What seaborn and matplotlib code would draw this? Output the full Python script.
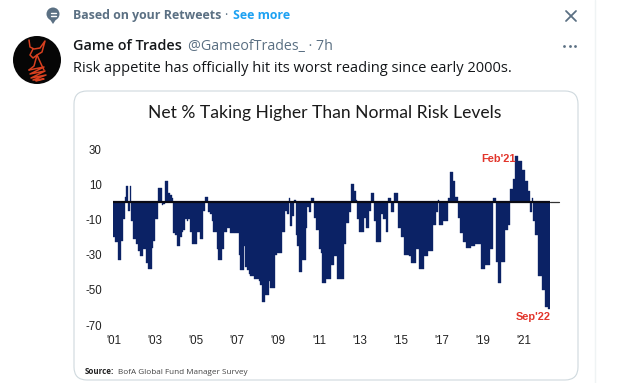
import numpy as np
import pandas as pd
import matplotlib
matplotlib.use("Agg")
import matplotlib.pyplot as plt
from matplotlib.patches import Circle, FancyBboxPatch
import seaborn as sns

# net % taking higher than normal risk, one row per year
net_pct = [
    -20, -23, -23, -33, -33, -22, -10, 3, 9, -5, 9, -11,          # 2001
    -21, -21, -24, -28, -31, -31, -27, -27, -35, -38, -38, -26,   # 2002
    -22, -10, -10, 8, 8, -2, -1, 12, 12, 5, 4, 2,                 # 2003
    -18, -19, -25, -25, -20, -17, -16, -10, -11, -10, -17, -24,   # 2004
    -24, -24, -17, -17, -21, -21, -5, 3, 3, -6, -7, -11,          # 2005
    -17, -17, -27, -33, -33, -27, -17, -17, -15, -15, -18, -18,   # 2006
    -18, -18, -18, -30, -39, -39, -25, -37, -39, -41, -42, -42,   # 2007
    -44, -44, -44, -45, -47, -57, -57, -53, -53, -45, -49, -49,   # 2008
    -49, -30, -29, -29, -29, -17, -17, -5, -7, 2, -14, -8,        # 2009
    1, -19, -25, -40, -40, -33, -33, -15, -3, -6, 2, 2,           # 2010
    -9, -16, -16, -27, -29, -46, -46, -44, -44, -44, -36, -36,    # 2011
    -31, -31, -44, -44, -44, -44, -24, -12, -12, -6, 10, 10,      # 2012
    6, 1, -10, -17, -17, -17, -9, -15, -15, -5, 5, 5,             # 2013
    -11, -23, -23, -23, -7, -10, -10, -17, 2, 2, -6, -6,          # 2014
    5, 5, -15, -15, -20, -20, -30, -30, -30, -31, -35, -35,       # 2015
    -35, -27, -27, -38, -38, -38, -31, -31, -28, -28, -28, -13,   # 2016
    -13, -6, 1, -13, -13, -11, -11, -11, 2, 17, 17, 12,           # 2017
    3, 3, -9, -18, -18, -23, -23, -26, -26, -26, -25, -25,        # 2018
    -24, -24, -24, -24, -38, -38, -36, -36, -36, -27, -27, 2,     # 2019
    2, -34, -46, -46, -34, -34, -16, -16, -13, 7, 7, 13,          # 2020
    26, 26, 23, 23, 18, 18, 12, 12, 6, -6, 2, -11,                # 2021
    -19, -19, -42, -42, -50, -50, -60, -60, -61,                  # 2022
]
y_ticks = [30, 10, -10, -30, -50, -70]
x_labels = ["'01", "'03", "'05", "'07", "'09", "'11", "'13", "'15", "'17", "'19", "'21"]

W, H = 622, 383
NAVY = "#0b2265"
RED = "#e2352b"
GREY = "#5b7083"
UI_FONT = "Open Sans"

sns.set_theme(style="white")
plt.rcParams["font.family"] = ["Liberation Sans", "DejaVu Sans"]

df = pd.DataFrame({"month": pd.date_range("2001-01-01", periods=len(net_pct), freq="MS").strftime("%Y-%m"),
                   "net": net_pct})

fig = plt.figure(figsize=(W / 100, H / 100), dpi=100, facecolor="white")

# page layer in pixel coordinates for the tweet around the chart
page = fig.add_axes([0, 0, 1, 1])
page.set_xlim(0, W)
page.set_ylim(H, 0)
page.axis("off")

page.plot([595, 595], [0, H], color="#eff3f4", lw=1)

# "based on your retweets" icon
page.add_patch(Circle((53, 14), 6.5, color=GREY, lw=0))
page.fill([49, 57, 53], [18, 18, 24], color=GREY, lw=0)
page.plot([50.5, 55.5], [12.5, 12.5], color="white", lw=1)
page.plot([50.5, 55.5], [15.5, 15.5], color="white", lw=1)

page.text(73, 15.5, "Based on your Retweets", family=UI_FONT, fontsize=8.9, weight="bold", color=GREY, va="center")
page.text(226, 15.5, "·", family=UI_FONT, fontsize=8.9, color=GREY, va="center", ha="center")
page.text(233, 15.5, "See more", family=UI_FONT, fontsize=8.9, weight="bold", color="#1da1f2", va="center")

# close cross and dots
page.plot([566, 576], [11, 21], color=GREY, lw=1.3)
page.plot([576, 566], [11, 21], color=GREY, lw=1.3)
page.scatter([564, 569.5, 575], [46, 46, 46], s=4, color=GREY, lw=0)

# avatar, a red knight scribble on black
page.add_patch(Circle((37, 60), 24, color="#060606", lw=0))
page.plot([29, 30, 34, 40, 45, 42, 37, 42, 44], [40, 47, 49, 48, 41, 52, 55, 66, 70], color="#d8401f", lw=1.1)
page.plot([33, 30, 33, 37, 34, 29], [49, 55, 58, 55, 66, 70], color="#d8401f", lw=1.1)
page.plot([29, 44, 30, 45, 31, 46, 33, 44, 36], [70, 67, 74, 71, 78, 75, 80, 79, 81], color="#d8401f", lw=1.1)

page.text(73, 46, "Game of Trades", family=UI_FONT, fontsize=10.4, weight="semibold", color="#14171a", va="center")
page.text(188, 46, "@GameofTrades_ · 7h", family=UI_FONT, fontsize=10.3, color=GREY, va="center")
page.text(73, 68, "Risk appetite has officially hit its worst reading since early 2000s.",
          family=UI_FONT, fontsize=10.55, color="#14171a", va="center")

# chart card
page.add_patch(FancyBboxPatch((74, 91), 504, 289, boxstyle="round,pad=0,rounding_size=13",
                              fc="white", ec="#cfd9de", lw=0.8))
page.text(325, 113, "Net % Taking Higher Than Normal Risk Levels", family="Lato", fontsize=12.6,
          color="#1a1a1a", ha="center", va="center")
page.text(85, 372, "Source:", family=UI_FONT, fontsize=5.8, weight="bold", color="#222222", va="center")
page.text(118, 372, "BofA Global Fund Manager Survey", family=UI_FONT, fontsize=5.9, color="#444444", va="center")

# bar chart, 261 months from x=113 to x=550, y=30 at 149 and y=-70 at 325
ax = fig.add_axes([113 / W, 1 - 325 / H, 437 / W, 176 / H])
ax.patch.set_alpha(0)
sns.barplot(data=df, x="month", y="net", color=NAVY, saturation=1, width=1.0, linewidth=0.25,
            edgecolor=NAVY, ax=ax)
ax.set_xlim(-0.5, len(net_pct) - 0.5)
ax.set_ylim(-70, 30)
ax.set_xlabel("")
ax.set_ylabel("")
ax.set_yticks(y_ticks)
ax.set_yticklabels([str(v) for v in y_ticks], fontsize=8.3, color="#222222")
ax.set_xticks(np.arange(len(x_labels)) * 24.5)
ax.set_xticklabels(x_labels, fontsize=8.3, color="#222222")
ax.tick_params(axis="y", length=0, pad=8)
ax.tick_params(axis="x", length=0, pad=7)
sns.despine(ax=ax, left=True, bottom=True)
ax.grid(False)

# zero line runs a little past the last bar
ax.plot([-0.5, len(net_pct) - 0.5], [0, 0], color="#0a0a14", lw=1.6, zorder=5)
ax.plot([len(net_pct) - 0.5, len(net_pct) + 5], [0, 0], color="#333333", lw=0.9, clip_on=False, zorder=5)

ax.text(240, 24.5, "Feb'21", fontsize=7.9, color=RED, ha="right", va="center", weight="bold")
ax.text(261, -65.5, "Sep'22", fontsize=7.9, color=RED, ha="right", va="center", weight="bold")

fig.savefig("out.png", dpi=100)
